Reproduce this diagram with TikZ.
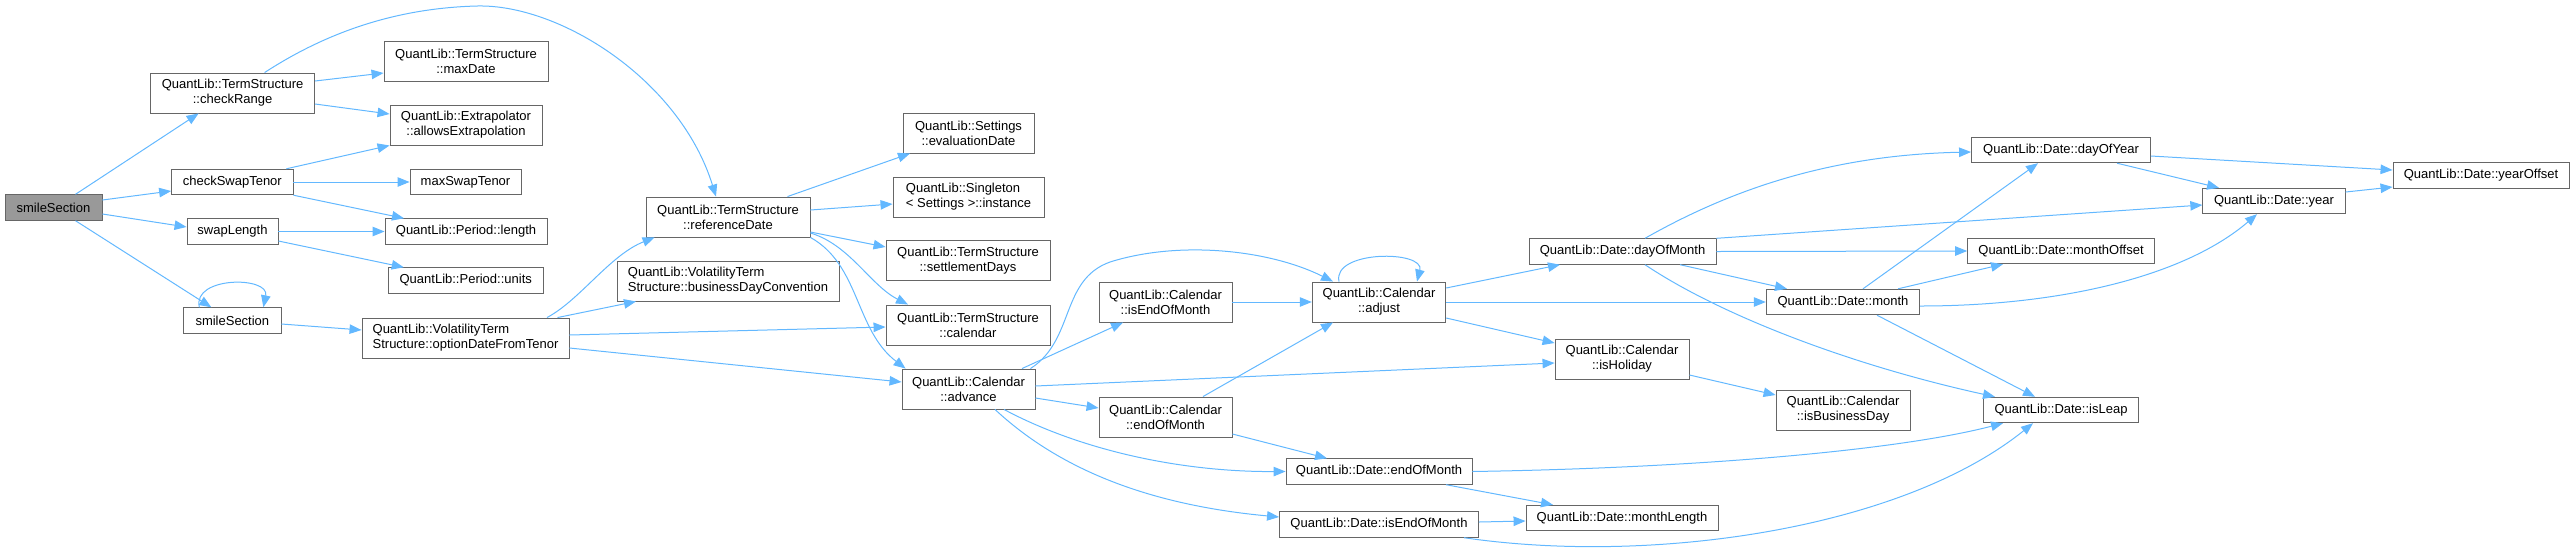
\documentclass[tikz,border=0pt]{standalone}
\usepackage{fontspec}
\setmainfont{Liberation Sans}
\usetikzlibrary{arrows.meta}
\definecolor{edgeblue}{HTML}{63B8FF}
\definecolor{boxgray}{HTML}{666666}
\definecolor{rootgray}{HTML}{999999}

\begin{document}
\begin{tikzpicture}[x=1pt,y=-1pt]
        \tikzset{fn/.style={draw=boxgray, line width=0.9pt, fill=white, inner sep=0pt,
                 align=center, font=\fontsize{13}{15}\selectfont},
                 fnl/.style={fn, align=left},
                 rootfn/.style={fn, fill=rootgray},
                 call/.style={draw=edgeblue, line width=1pt, -{Triangle[length=12pt,width=9.5pt]}}}
        \useasboundingbox (0,0) rectangle (2575,558);
        \node[rootfn, minimum width=97pt, minimum height=25.5pt] (root) at (53.5,207.5) {smileSection};
        \node[fn, minimum width=164pt, minimum height=40pt] (checkRange) at (232.6,93) {QuantLib::TermStructure\\::checkRange};
        \node[fn, minimum width=121.4pt, minimum height=25.5pt] (checkSwapTenor) at (232.3,182) {checkSwapTenor};
        \node[fn, minimum width=91pt, minimum height=25.5pt] (swapLength) at (232.5,231.5) {swapLength};
        \node[fn, minimum width=97.3pt, minimum height=25.5pt] (smileSectionB) at (232.35,320.5) {smileSection};
        \node[fn, minimum width=164pt, minimum height=40pt] (maxDate) at (466,61) {QuantLib::TermStructure\\::maxDate};
        \node[fn, minimum width=152pt, minimum height=40pt] (allowsExtr) at (466,125) {QuantLib::Extrapolator\\::allowsExtrapolation};
        \node[fn, minimum width=111pt, minimum height=25.5pt] (maxSwapTenor) at (465.5,182) {maxSwapTenor};
        \node[fn, minimum width=162pt, minimum height=25.5pt] (periodLength) at (466,231.5) {QuantLib::Period::length};
        \node[fn, minimum width=154.5pt, minimum height=25.5pt] (periodUnits) at (465.75,280.5) {QuantLib::Period::units};
        \node[fnl, minimum width=207pt, minimum height=40pt] (optionDate) at (465.5,338) {QuantLib::VolatilityTerm\\Structure::optionDateFromTenor};
        \node[fn, minimum width=164pt, minimum height=40pt] (referenceDate) at (728,217) {QuantLib::TermStructure\\::referenceDate};
        \node[fnl, minimum width=222pt, minimum height=40pt] (bdc) at (728,281) {QuantLib::VolatilityTerm\\Structure::businessDayConvention};
        \node[fn, minimum width=131pt, minimum height=40pt] (evaluationDate) at (968.5,133) {QuantLib::Settings\\::evaluationDate};
        \node[fnl, minimum width=151pt, minimum height=40pt] (instance) at (968.5,197) {QuantLib::Singleton\\< Settings >::instance};
        \node[fn, minimum width=164pt, minimum height=40pt] (settlementDays) at (968,260.5) {QuantLib::TermStructure\\::settlementDays};
        \node[fn, minimum width=164pt, minimum height=40pt] (tsCalendar) at (968,325) {QuantLib::TermStructure\\::calendar};
        \node[fn, minimum width=133pt, minimum height=40pt] (advance) at (968.5,389) {QuantLib::Calendar\\::advance};
        \node[fn, minimum width=133pt, minimum height=40pt] (calIsEOM) at (1165.5,302) {QuantLib::Calendar\\::isEndOfMonth};
        \node[fn, minimum width=133pt, minimum height=40pt] (calEOM) at (1165.5,417) {QuantLib::Calendar\\::endOfMonth};
        \node[fn, minimum width=133.5pt, minimum height=40pt] (adjust) at (1379,302) {QuantLib::Calendar\\::adjust};
        \node[fn, minimum width=186pt, minimum height=25.5pt] (dateEOM) at (1379,471.5) {QuantLib::Date::endOfMonth};
        \node[fn, minimum width=199pt, minimum height=25.5pt] (dateIsEOM) at (1379,524.5) {QuantLib::Date::isEndOfMonth};
        \node[fn, minimum width=187pt, minimum height=25.5pt] (dayOfMonth) at (1622.5,251.5) {QuantLib::Date::dayOfMonth};
        \node[fn, minimum width=134pt, minimum height=40pt] (isHoliday) at (1622,359) {QuantLib::Calendar\\::isHoliday};
        \node[fn, minimum width=192pt, minimum height=25.5pt] (monthLength) at (1622,518) {QuantLib::Date::monthLength};
        \node[fn, minimum width=153.5pt, minimum height=25.5pt] (month) at (1843,302) {QuantLib::Date::month};
        \node[fn, minimum width=134pt, minimum height=40pt] (isBusinessDay) at (1843,410) {QuantLib::Calendar\\::isBusinessDay};
        \node[fn, minimum width=179pt, minimum height=25.5pt] (dayOfYear) at (2061,150) {QuantLib::Date::dayOfYear};
        \node[fn, minimum width=186.8pt, minimum height=25.5pt] (monthOffset) at (2061,251) {QuantLib::Date::monthOffset};
        \node[fn, minimum width=155.5pt, minimum height=25.5pt] (isLeap) at (2061,410) {QuantLib::Date::isLeap};
        \node[fn, minimum width=142.4pt, minimum height=25.5pt] (year) at (2274,201) {QuantLib::Date::year};
        \node[fn, minimum width=176pt, minimum height=25.5pt] (yearOffset) at (2481,175.5) {QuantLib::Date::yearOffset};

        \draw[call] ([xshift=22pt]root.north) -- ([xshift=-34pt]checkRange.south);
        \draw[call] ([yshift=7.5pt]root.east) -- ([yshift=-9pt]checkSwapTenor.west);
        \draw[call] ([yshift=-6.5pt]root.east) -- ([yshift=4.5pt]swapLength.west);
        \draw[call] ([xshift=22pt]root.south) -- ([xshift=-21pt]smileSectionB.north);
        \draw[call] ([yshift=12pt]checkRange.east) -- ([yshift=-12pt]maxDate.west);
        \draw[call] ([yshift=-11pt]checkRange.east) -- ([yshift=11pt]allowsExtr.west);
        \draw[call] ([xshift=32pt]checkRange.north) .. controls (330,30) and (400,8) .. (477,6)
                    .. controls (560,4) and (680,80) .. ([xshift=-12pt]referenceDate.north);
        \draw[call] ([xshift=54pt]checkSwapTenor.north) -- (allowsExtr.south west);
        \draw[call] (checkSwapTenor.east) -- (maxSwapTenor.west);
        \draw[call] (checkSwapTenor.south east) -- ([xshift=-62pt]periodLength.north);
        \draw[call] (swapLength.east) -- (periodLength.west);
        \draw[call] ([yshift=-9.5pt]swapLength.east) -- ([xshift=-62pt]periodUnits.north);
        \draw[call] ([xshift=-33pt]smileSectionB.north) .. controls (192,276) and (270,276) .. ([xshift=31pt]smileSectionB.north);
        \draw[call] ([yshift=-3.5pt]smileSectionB.east) -- ([yshift=8pt]optionDate.west);
        \draw[call] ([xshift=81.5pt]optionDate.north) .. controls (580,300) and (610,255) .. ([xshift=9pt]referenceDate.south west);
        \draw[call] ([xshift=92pt]optionDate.north) -- ([xshift=-92pt]bdc.south);
        \draw[call] ([yshift=3pt]optionDate.east) -- ([yshift=-2pt]tsCalendar.west);
        \draw[call] ([yshift=-10pt]optionDate.east) -- ([yshift=7pt]advance.west);
        \draw[call] ([xshift=59.5pt]referenceDate.north) -- ([xshift=-58.5pt]evaluationDate.south);
        \draw[call] ([yshift=7pt]referenceDate.east) -- ([yshift=-7pt]instance.west);
        \draw[call] ([yshift=-15pt]referenceDate.east) -- ([yshift=13.5pt]settlementDays.west);
        \draw[call] ([yshift=-16pt]referenceDate.east) .. controls (850,245) and (870,285) .. ([xshift=-60pt]tsCalendar.north);
        \draw[call] (referenceDate.south east) .. controls (860,265) and (855,330) .. ([xshift=4pt]advance.north west);
        \draw[call] ([xshift=-5pt]advance.north east) .. controls (1075,340) and (1060,280) .. (1110,262)
                    .. controls (1180,240) and (1270,250) .. ([xshift=-46pt]adjust.north);
        \draw[call] ([xshift=53.5pt]advance.north) -- ([xshift=-42.5pt]calIsEOM.south);
        \draw[call] ([yshift=3pt]advance.east) -- ([yshift=-4pt]isHoliday.west);
        \draw[call] ([yshift=-9pt]advance.east) -- ([yshift=9pt]calEOM.west);
        \draw[call] ([xshift=35.5pt]advance.south) .. controls (1080,450) and (1180,472) .. (dateEOM.west);
        \draw[call] ([xshift=26.5pt]advance.south) .. controls (1060,470) and (1150,505) .. ([yshift=7.5pt]dateIsEOM.west);
        \draw[call] (calIsEOM.east) -- (adjust.west);
        \draw[call] ([xshift=37.5pt]calEOM.north) -- ([xshift=-46pt]adjust.south);
        \draw[call] ([yshift=-17pt]calEOM.east) -- ([xshift=-52pt]dateEOM.north);
        \draw[call] ([xshift=-40pt]adjust.north) .. controls (1332,250) and (1425,250) .. ([xshift=38pt]adjust.north);
        \draw[call] ([yshift=14pt]adjust.east) -- ([xshift=-62.5pt]dayOfMonth.south);
        \draw[call] (adjust.east) -- (month.west);
        \draw[call] ([yshift=-16pt]adjust.east) -- ([yshift=16pt]isHoliday.west);
        \draw[call] ([yshift=-16pt]isHoliday.east) -- ([yshift=15pt]isBusinessDay.west);
        \draw[call] ([xshift=22.5pt]dayOfMonth.north) .. controls (1730,190) and (1830,155) .. ([yshift=-2pt]dayOfYear.west);
        \draw[call] (dayOfMonth.north east) -- ([yshift=-4pt]year.west);
        \draw[call] (dayOfMonth.east) -- (monthOffset.west);
        \draw[call] ([xshift=57.5pt]dayOfMonth.south) -- ([xshift=-56pt]month.north);
        \draw[call] ([xshift=22.5pt]dayOfMonth.south) .. controls (1720,315) and (1850,365) .. ([xshift=-66pt]isLeap.north);
        \draw[call] ([xshift=20pt]month.north) -- ([xshift=-23pt]dayOfYear.south);
        \draw[call] ([xshift=55pt]month.north) -- ([xshift=-58pt]monthOffset.south);
        \draw[call] ([yshift=-4pt]month.east) .. controls (2050,306) and (2180,280) .. ([xshift=-17pt]year.south);
        \draw[call] ([xshift=34pt]month.south) -- ([xshift=-26pt]isLeap.north);
        \draw[call] ([yshift=-6pt]dayOfYear.east) -- ([yshift=5.5pt]yearOffset.west);
        \draw[call] ([xshift=56pt]dayOfYear.south) -- ([xshift=-55pt]year.north);
        \draw[call] ([yshift=9pt]year.east) -- ([yshift=-11.5pt]yearOffset.west);
        \draw[call] ([xshift=67pt]dateEOM.south) -- ([xshift=-69pt]monthLength.north);
        \draw[call] (dateEOM.east) .. controls (1700,468) and (1900,450) .. ([xshift=-58pt]isLeap.south);
        \draw[call] ([yshift=2.5pt]dateIsEOM.east) -- ([yshift=-3pt]monthLength.west);
        \draw[call] ([xshift=85pt]dateIsEOM.south) .. controls (1650,565) and (1900,530) .. ([xshift=-28pt]isLeap.south);
    \end{tikzpicture}
\end{document}
